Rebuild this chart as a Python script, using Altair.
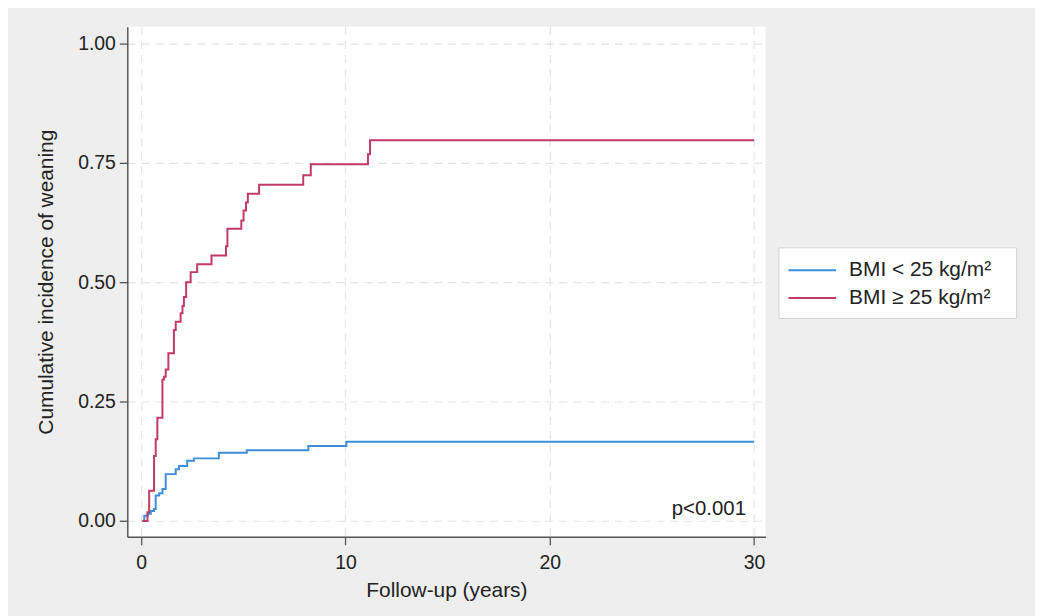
import altair as alt
import pandas as pd

# Kaplan-Meier style cumulative incidence, change points (years, cumulative incidence)
low_t = [0.06, 0.15, 0.31, 0.47, 0.63, 0.71, 0.88, 1.04, 1.20, 1.69, 1.85, 2.25, 2.58, 3.80, 5.17, 8.18, 10.04, 30.0]
low_y = [0.0, 0.011, 0.015, 0.021, 0.025, 0.053, 0.058, 0.067, 0.098, 0.108, 0.115, 0.126, 0.131, 0.143, 0.148, 0.157, 0.166, 0.166]

high_t = [0.06, 0.31, 0.39, 0.63, 0.71, 0.79, 1.04, 1.12, 1.20, 1.33, 1.60, 1.69, 1.93, 2.02, 2.09, 2.20, 2.42, 2.74,
          3.44, 4.15, 4.22, 4.90, 5.01, 5.13, 5.22, 5.77, 7.93, 8.30, 11.10, 11.20, 30.0]
high_y = [0.0, 0.018, 0.063, 0.136, 0.171, 0.216, 0.296, 0.302, 0.317, 0.351, 0.400, 0.417, 0.435, 0.450, 0.469, 0.500,
          0.521, 0.5375, 0.556, 0.575, 0.612, 0.629, 0.650, 0.667, 0.685, 0.704, 0.724, 0.747, 0.768, 0.797, 0.797]

groups = ["BMI < 25 kg/m²", "BMI ≥ 25 kg/m²"]
colors = ["#3d8fdc", "#c23a66"]

x_ticks = [0, 10, 20, 30]
y_ticks = [0.0, 0.25, 0.5, 0.75, 1.0]

tail = "\u2800"

df = pd.concat([
    pd.DataFrame({"t": low_t, "ci": low_y, "group": groups[0]}),
    pd.DataFrame({"t": high_t, "ci": high_y, "group": groups[1]}),
])

FONT = "Liberation Sans"

x_enc = alt.X("t:Q",
              scale=alt.Scale(domain=[-0.68, 30.56], nice=False, zero=False),
              axis=alt.Axis(values=x_ticks, title="Follow-up (years)", format="d"))
y_enc = alt.Y("ci:Q",
              scale=alt.Scale(domain=[-0.033, 1.035], nice=False, zero=False),
              axis=alt.Axis(values=y_ticks, title="Cumulative incidence of weaning", format=".2f"))

lines = alt.Chart(df).mark_line(interpolate="step-after", strokeWidth=2).encode(
    x=x_enc,
    y=y_enc,
    color=alt.Color("group:N",
                    scale=alt.Scale(domain=groups, range=colors),
                    legend=alt.Legend(
                        title=None, orient="none", legendX=655, legendY=222,
                        symbolType="M-2,0H2", symbolSize=576, symbolStrokeWidth=2,
                        symbolOffset=11,
                        labelFontSize=21, labelFont=FONT, labelColor="#222",
                        labelOffset=24, rowPadding=5, padding=10, labelLimit=400,
                        fillColor="white", strokeColor="#d4d4d4",
                        labelExpr=f"datum.label + '{tail}'",
                    )),
)

ptext = alt.Chart(pd.DataFrame({"t": [29.6], "ci": [0.012], "label": ["p<0.001"]})).mark_text(
    align="right", baseline="alphabetic", fontSize=20.5, font=FONT, color="#222"
).encode(x="t:Q", y="ci:Q", text="label:N")

chart = alt.layer(lines, ptext).properties(
    width=642, height=513,
    background="#eeeeee",
    autosize=alt.AutoSizeParams(type="none"),
    padding={"left": 120, "top": 17, "right": 271, "bottom": 78},
).configure_view(
    fill="white", stroke=None
).configure_axis(
    labelFont=FONT, titleFont=FONT, labelFontSize=19.5, titleFontSize=21,
    labelColor="#222", titleColor="#222", titleFontWeight="normal",
    domainColor="#555", domainWidth=1.5, tickColor="#555", tickWidth=1.3, tickSize=8,
    grid=True, gridColor="#e4e4e4", gridDash=[8, 6], gridWidth=1.2,
).configure_axisY(
    labelPadding=4, titlePadding=21,
).configure_axisX(
    labelPadding=9, titlePadding=8,
)

chart.save("out.html", embed_options={"renderer": "svg", "actions": False})
